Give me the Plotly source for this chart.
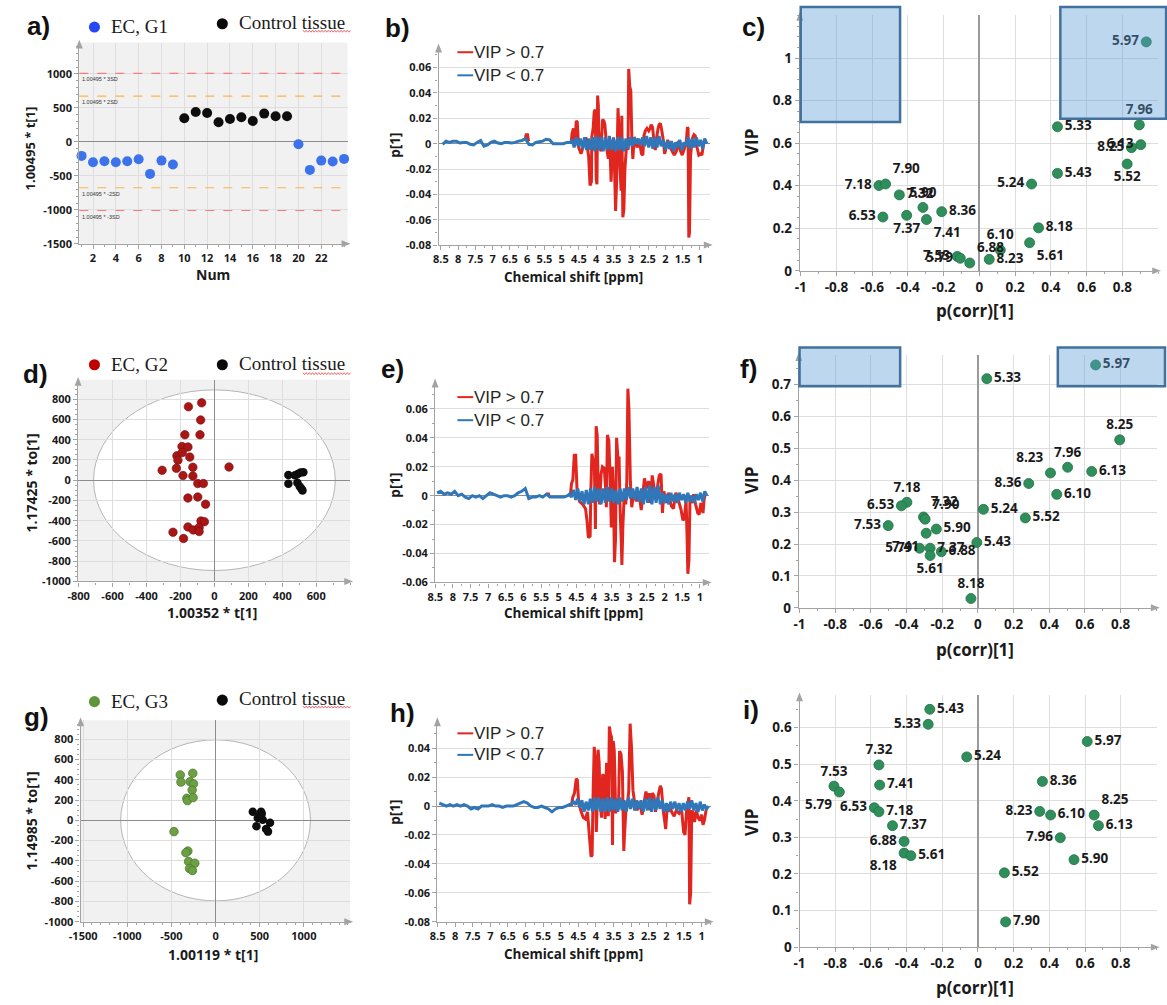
import plotly.graph_objects as go

W, H = 1167, 1005

# ---------------- a) t[1] score per observation ----------------
A_NUM = [1, 2, 3, 4, 5, 6, 7, 8, 9, 10, 11, 12, 13, 14, 15, 16, 17, 18, 19, 20, 21, 22, 23, 24]
A_GROUP = ['EC', 'EC', 'EC', 'EC', 'EC', 'EC', 'EC', 'EC', 'EC',
           'CT', 'CT', 'CT', 'CT', 'CT', 'CT', 'CT', 'CT', 'CT', 'CT',
           'EC', 'EC', 'EC', 'EC', 'EC']
A_T1 = [-206, -299, -284, -299, -284, -255, -471, -275, -333,
        348, 441, 426, 289, 338, 363, 309, 417, 377, 377,
        -34, -412, -275, -289, -250]
A_SD_LEVELS = [1010, 675, -675, -1010]
A_SD_LABELS = ['1.00495 * 3SD', '1.00495 * 2SD', '1.00495 * -2SD', '1.00495 * -3SD']
A_SD_COLORS = ['#ff7b7b', '#ffb347', '#ffb347', '#ff7b7b']

# ---------------- d) / g) OPLS-DA score plots ----------------
D_EC_T = [-75, -153, -81, -174, -85, -191, -156, -221, -189, -215, -145, -308, -224, -127, -185,
          -127, -98, -65, 86, -156, -98, -52, -79, -59, -156, -125, -90, -90, -244, -182]
D_EC_TO = [764, 725, 595, 449, 449, 332, 328, 241, 273, 198, 228, 98, 117, 127, 46,
           42, -33, -33, 130, -176, -166, -237, -403, -410, -462, -491, -468, -507, -514, -576]
D_CT_T = [436, 436, 475, 491, 508, 524, 489, 503, 513, 519]
D_CT_TO = [52, -36, 49, 62, 75, 78, -26, -62, -85, -101]
D_ELLIPSE = (712, 892)

G_EC_T = [-258, -400, -288, -392, -250, -265, -325, -318, -254, -471, -314, -336, -306, -235, -295, -262]
G_EC_TO = [465, 449, 381, 378, 361, 299, 218, 195, 225, -111, -303, -319, -407, -423, -475, -495]
G_CT_T = [422, 516, 497, 478, 534, 617, 463, 572, 594, 523]
G_CT_TO = [85, 85, 46, 23, 7, -23, -59, -85, -111, 65]
G_ELLIPSE = (1075, 795)

# ---------------- b) e) h) loading line plots, p[1] x 1000 ----------------
BLUE_PPM = [8.45, 8.35, 8.25, 8.15, 8.05, 7.95, 7.85, 7.75, 7.65, 7.55,
            7.45, 7.35, 7.25, 7.15, 7.05, 6.95, 6.85, 6.75, 6.65, 6.55,
            6.45, 6.35, 6.25, 6.15, 6.05, 5.95, 5.85, 5.75, 5.65, 5.55,
            5.45, 5.35, 5.25, 5.15, 5.05, 4.95, 4.85, 4.75,
            4.70, 4.64, 4.58, 4.52, 4.46, 4.40, 4.34, 4.28, 4.22, 4.16,
            4.10, 4.04, 3.98, 3.92, 3.86, 3.80, 3.74, 3.68, 3.62, 3.56,
            3.50, 3.44, 3.38, 3.32, 3.26, 3.20, 3.14, 3.08, 3.02, 2.96,
            2.90, 2.84, 2.78, 2.72, 2.66, 2.60, 2.54, 2.48, 2.42, 2.36,
            2.30, 2.24, 2.18, 2.12, 2.06, 2.00, 1.94, 1.88, 1.82, 1.76,
            1.70, 1.64, 1.58, 1.52, 1.46, 1.40, 1.34, 1.28, 1.22, 1.16,
            1.10, 1.04, 0.98, 0.92, 0.86, 0.80]

B_BLUE_P1 = [-0.5, 2, 1, 2, 2, 0.5, 1, 1, -0.5, -1,
             1, 2.5, -2, -1, 1, 2, 0.5, 0, 1, 1,
             0.5, 1, 2, 2.5, 4, -0.5, -1, 1, 1.5, 2,
             3.5, 3, 0, 0, 0, 0, 1, 1,
             3, -3, 5, -2, 4, -4, 5, -5, 4, -5,
             5, -6, 6, -5, 5, -6, 5, -5, 6, -5,
             4, -6, 5, -5, 5, -6, 4, -4, 5, -2,
             5, 0, 4, -1, 5, -2, 6, -3, 5, -4,
             5, -3, 6, -2, 3, -5, 2, -4, 2, -6,
             1, -3, 3, -5, 1, -2, 5, -4, 4, -3,
             5, -2, 3, -4, 4, 0]
B_RED_PPM = [6.06, 6.03, 5.99, 5.96, None, 4.73, 4.70, 4.66, 4.62, 4.58,
             4.55, 4.51, 4.44, 4.30, 4.22, 4.18, 4.14, 4.13, 4.09, 4.06,
             4.03, 4.00, 3.98, 3.96, 3.94, 3.93, 3.90, 3.86, 3.82, 3.78,
             3.75, 3.72, 3.69, 3.65, 3.61, 3.57, 3.54, 3.50, 3.48, 3.44,
             3.41, 3.37, 3.34, 3.31, 3.28, 3.26, 3.23, 3.20, 3.17, 3.14,
             3.11, 3.08, 3.06, 3.03, 3.00, 2.97, 2.94, 2.90, 2.86, 2.82,
             2.75, 2.69, 2.65, 2.62, 2.58, 2.53, 2.48, 2.44, 2.41, 2.37,
             2.33, 2.29, 2.25, 2.21, 2.18, 2.14, 2.10, 2.06, 2.02, 1.99,
             1.93, 1.86, 1.80, 1.74, 1.68, 1.62, 1.57, 1.51, 1.45, 1.39,
             1.36, 1.34, 1.32, 1.30, 1.27, 1.22, 1.17, 1.13, 1.08, 1.03,
             0.98, 0.94, 0.89, 0.84]
B_RED_P1 = [3, 7, 7, 2, None, 0, 8, 12, -2, 18,
            17, -3, -8, 5, -10, -33, -30, 5, 12, 25,
            27, -28, -32, 38, 30, 10, -3, -6, 19, 18,
            15, 5, -5, -12, 3, -30, -10, 5, -8, -53,
            -30, 28, 10, -20, -37, 22, -58, -52, -20, -8,
            2, -5, 59, 45, 42, 5, -12, 5, 3, -3,
            2, -8, -9, 6, 10, 12, 10, 12, 15, 13,
            3, -5, 5, 12, 15, 16, 10, 3, -8, -5,
            3, -3, -6, -9, -6, 2, -5, -9, -4, 2,
            13, 12, -74, -70, -10, 4, 7, 6, -3, -9,
            -8, -9, 0, 3]

E_BLUE_P1 = [2, 3, 1, 2, 1, 3, 0, 1, -1, -2,
             0, -1, 0, -2, 0, 2, 1, 0, -1, 0,
             0, -1, 0, 2, 3, 5, -2, -1, -1, 0,
             -1, 1, -1, -1, -1, -1, -1, 0,
             1, -1, 4, -3, 5, -4, 3, -6, 4, -6,
             5, -5, 6, -4, 5, -6, 5, -5, 6, -4,
             5, -5, 4, -6, 5, -4, 5, -3, 6, -2,
             5, -3, 6, -4, 5, -6, 6, -5, 7, -6,
             6, -5, 7, -6, 2, -5, 1, -6, 2, -4,
             1, -5, 2, -3, 1, -5, 2, -4, 0, -5,
             1, -3, 2, -4, 3, 0]
E_RED_PPM = [5.32, 5.30, 5.28, None, 4.67, 4.64, 4.60, 4.56, 4.52, 4.48,
             4.41, 4.32, 4.24, 4.20, 4.16, 4.11, 4.09, 4.06, 4.02, 3.99,
             3.96, 3.94, 3.91, 3.88, 3.84, 3.80, 3.76, 3.71, 3.67, 3.65,
             3.62, 3.58, 3.54, 3.51, 3.48, 3.45, 3.42, 3.39, 3.36, 3.32,
             3.29, 3.26, 3.23, 3.21, 3.18, 3.14, 3.10, 3.07, 3.04, 3.01,
             2.97, 2.93, 2.87, 2.80, 2.73, 2.66, 2.62, 2.57, 2.51, 2.45,
             2.40, 2.35, 2.30, 2.24, 2.19, 2.15, 2.10, 2.06, 2.02, 1.96,
             1.89, 1.81, 1.75, 1.68, 1.61, 1.53, 1.48, 1.44, 1.39, 1.36,
             1.34, 1.31, 1.28, 1.23, 1.18, 1.12, 1.06, 1.02, 0.97, 0.91,
             0.88, 0.84]
E_RED_P1 = [0, 2, 0, None, 0, 8, 11, 28, 28, 3,
            -4, -6, -9, -17, -29, -28, 3, 29, 24, 22,
            -23, 48, 42, 5, -6, 15, 20, 19, 5, -8,
            42, 38, 10, -22, 20, 5, -46, -30, 40, 25,
            27, -10, -30, -48, -20, 2, -6, 10, 74, 60,
            10, -8, 3, -4, 3, -10, 0, 12, 5, 10,
            -5, 14, 6, -3, 8, 14, 15, -12, 3, -5,
            2, -7, -9, 2, -3, -10, -17, -16, -3, -30,
            -54, -45, -3, -5, 1, -6, -12, -13, -5, -12,
            -3, 2]

H_BLUE_P1 = [2, 1, 0, 1, 0, 1, 0, 1, 0, -2,
             -1, -2, 0, 0, 0, 1, 0, 0, -1, 0,
             0, 0, 1, 2, 3, 2, 0, -1, -1, 0,
             -1, -2, -4, -2, -1, -1, 0, 1,
             1, 3, 1, 5, -1, 4, -4, 3, -3, 5,
             -4, 6, -3, 6, -4, 5, -4, 6, -4, 6,
             -3, 5, -4, 6, -3, 4, -4, 6, -2, 5,
             -3, 4, -2, 4, -4, 5, -3, 6, -4, 5,
             -3, 6, -2, 4, -4, 2, -4, 3, -2, 3,
             -3, 2, -4, 2, -3, 3, -2, 4, -3, 2,
             -4, 3, -3, 1, -2, 0]
H_RED_PPM = [4.70, 4.66, 4.61, 4.56, 4.53, 4.49, 4.42, 4.36, 4.30, 4.24,
             4.19, 4.14, 4.11, 4.08, 4.05, 4.02, 3.99, 3.96, 3.94, 3.91,
             3.88, 3.84, 3.81, 3.77, 3.74, 3.70, 3.67, 3.65, 3.62, 3.59,
             3.56, 3.53, 3.51, 3.48, 3.44, 3.39, 3.36, 3.33, 3.29, 3.25,
             3.21, 3.19, 3.15, 3.10, 3.07, 3.03, 2.99, 2.95, 2.90, 2.83,
             2.76, 2.69, 2.63, 2.58, 2.53, 2.49, 2.45, 2.40, 2.35, 2.31,
             2.26, 2.21, 2.17, 2.14, 2.09, 2.05, 2.02, 1.98, 1.92, 1.85,
             1.78, 1.72, 1.64, 1.57, 1.51, 1.47, 1.43, 1.39, 1.36, 1.34,
             1.31, 1.28, 1.24, 1.20, 1.15, 1.10, 1.05, 1.00, 0.96, 0.92,
             0.88, 0.85]
H_RED_P1 = [0, 6, 9, 19, 18, 2, -4, -8, -9, -4,
            -20, -35, -34, 10, 41, 32, -18, 5, 39, 30,
            3, -8, 22, 20, -9, 30, 22, -7, 55, 50,
            48, -27, 45, 38, -5, 5, -2, 38, 36, 24,
            -31, -20, -3, 3, 10, 57, 40, 11, 2, -3,
            3, -6, 3, 10, 4, 9, -3, 9, 7, -4,
            3, 10, 14, 12, -3, -10, -16, -2, 1, -4,
            -7, -3, -5, -2, -18, -20, -4, 2, 6, -68,
            -60, -3, -5, -11, -3, -8, -10, -6, -13, -10,
            -4, 0]

# ---------------- c) f) i) VIP vs p(corr) ----------------
C_LABELS = ['5.97', '7.96', '6.13', '8.25', '5.52', '5.33', '5.43', '5.24', '8.18', '5.61', '6.10', '8.23',
            '6.88', '7.53', '5.79', '7.41', '8.36', '5.90', '7.37', '7.32', '6.53', '7.18', '7.90']
C_PCORR = [0.934, 0.895, 0.903, 0.851, 0.827, 0.437, 0.437, 0.292, 0.331, 0.281, 0.117, 0.055,
           -0.054, -0.124, -0.107, -0.296, -0.211, -0.316, -0.407, -0.448, -0.540, -0.562, -0.525]
C_VIP = [1.076, 0.686, 0.593, 0.579, 0.502, 0.677, 0.458, 0.408, 0.202, 0.132, 0.098, 0.054,
         0.037, 0.068, 0.059, 0.241, 0.278, 0.298, 0.261, 0.357, 0.253, 0.401, 0.408]
C_LABEL_SIDE = ['middle left', 'top center', 'middle left', 'middle left', 'bottom center', 'middle right',
                'middle right', 'middle left', 'middle right', 'bottom right', 'top center', 'middle right',
                'top right', 'middle left', 'middle left', 'bottom right', 'middle right', 'top center',
                'bottom center', 'middle right', 'middle left', 'middle left', 'top right']

F_LABELS = ['5.97', '5.33', '8.25', '7.96', '8.23', '6.13', '8.36', '6.10', '5.24', '5.52', '5.43', '8.18',
            '7.18', '6.53', '7.53', '7.32', '7.90', '5.90', '7.41', '5.79', '7.37', '5.61', '6.88']
F_PCORR = [0.660, 0.050, 0.795, 0.503, 0.407, 0.638, 0.285, 0.442, 0.031, 0.266, -0.006, -0.039,
           -0.398, -0.429, -0.503, -0.305, -0.296, -0.233, -0.290, -0.327, -0.268, -0.268, -0.205]
F_VIP = [0.762, 0.719, 0.527, 0.441, 0.423, 0.428, 0.390, 0.356, 0.309, 0.282, 0.205, 0.029,
         0.331, 0.320, 0.258, 0.285, 0.278, 0.247, 0.234, 0.187, 0.187, 0.164, 0.176]
F_LABEL_SIDE = ['middle right', 'middle right', 'top center', 'top center', 'top left', 'middle right',
                'middle left', 'middle right', 'middle right', 'middle right', 'middle right', 'top center',
                'top center', 'middle left', 'middle left', 'top right', 'top right', 'middle right',
                'bottom left', 'middle left', 'middle right', 'bottom center', 'middle right']

I_LABELS = ['5.43', '5.33', '5.97', '5.24', '7.32', '7.53', '5.79', '7.41', '8.36', '6.53', '7.18', '8.23',
            '6.10', '8.25', '6.13', '7.37', '7.96', '6.88', '8.18', '5.61', '5.90', '5.52', '7.90']
I_PCORR = [-0.270, -0.279, 0.612, -0.063, -0.555, -0.807, -0.777, -0.551, 0.361, -0.581, -0.555, 0.346,
           0.407, 0.651, 0.675, -0.479, 0.461, -0.414, -0.414, -0.376, 0.538, 0.148, 0.155]
I_VIP = [0.650, 0.609, 0.562, 0.520, 0.498, 0.440, 0.424, 0.443, 0.453, 0.381, 0.370, 0.371,
         0.361, 0.361, 0.332, 0.332, 0.299, 0.289, 0.257, 0.250, 0.239, 0.203, 0.069]
I_LABEL_SIDE = ['middle right', 'middle left', 'middle right', 'middle right', 'top center', 'top center',
                'bottom left', 'middle right', 'middle right', 'middle left', 'middle right', 'middle left',
                'middle right', 'top right', 'middle right', 'middle right', 'middle left', 'middle left',
                'bottom left', 'middle right', 'middle right', 'middle right', 'middle right']

# ---------------- tick labels ----------------
A_XTICKS = [2, 4, 6, 8, 10, 12, 14, 16, 18, 20, 22]
A_YTICKS = [-1500, -1000, -500, 0, 500, 1000]
PPM_TICKS = [8.5, 8, 7.5, 7, 6.5, 6, 5.5, 5, 4.5, 4, 3.5, 3, 2.5, 2, 1.5, 1]
B_YTICKS = [-0.08, -0.06, -0.04, -0.02, 0, 0.02, 0.04, 0.06]
E_YTICKS = [-0.06, -0.04, -0.02, 0, 0.02, 0.04, 0.06]
H_YTICKS = [-0.08, -0.06, -0.04, -0.02, 0, 0.02, 0.04]
PCORR_TICKS = [-1, -0.8, -0.6, -0.4, -0.2, 0, 0.2, 0.4, 0.6, 0.8]
C_YTICKS = [0, 0.2, 0.4, 0.6, 0.8, 1]
F_YTICKS = [0, 0.1, 0.2, 0.3, 0.4, 0.5, 0.6, 0.7]
I_YTICKS = [0, 0.1, 0.2, 0.3, 0.4, 0.5, 0.6]
D_XTICKS = [-800, -600, -400, -200, 0, 200, 400, 600]
D_YTICKS = [-1000, -800, -600, -400, -200, 0, 200, 400, 600, 800]
G_XTICKS = [-1500, -1000, -500, 0, 500, 1000]

# ---------------- geometry: plot areas (px) and axis ranges ----------------
PANELS = {
    'a': dict(L=68, R=339, T=43, B=246, xr=[0.8, 24.3], yr=[-1500, 1462]),
    'b': dict(L=431, R=705, T=47, B=247.3, xr=[8.566, 0.713], yr=[-0.08, 0.0766]),
    'c': dict(L=796, R=1158, T=15, B=273.3, xr=[-1.005, 1.0], yr=[0, 1.203]),
    'd': dict(L=66.8, R=341.7, T=383.3, B=586.7, xr=[-803, 800], yr=[-1000, 991]),
    'e': dict(L=427.5, R=704, T=385, B=587.7, xr=[8.505, 0.747], yr=[-0.06, 0.0789]),
    'f': dict(L=795, R=1156.7, T=358.3, B=613.3, xr=[-1.004, 1.003], yr=[0, 0.793]),
    'g': dict(L=69.3, R=341.7, T=726.7, B=930, xr=[-1529, 1525], yr=[-1000, 989]),
    'h': dict(L=429.8, R=706, T=726.7, B=930, xr=[8.505, 0.74], yr=[-0.08, 0.0594]),
    'i': dict(L=795.7, R=1156.7, T=701.7, B=955.7, xr=[-1.0, 1.002], yr=[0, 0.688]),
}
AX_INDEX = {'a': 1, 'b': 2, 'c': 3, 'd': 4, 'e': 5, 'f': 6, 'g': 7, 'h': 8, 'i': 9}

UI_FONT = 'Open Sans'
ARIAL = 'Liberation Sans'
SERIF = 'Liberation Serif'
INK = '#1a1a1a'
AXIS = '#a3a3a3'
GRID = '#dedede'
ZERO = '#8c8c8c'
PANEL_BG = '#f1f1f1'
SPEC_RED = '#e0261e'
SPEC_BLUE = '#2f77b8'
VIP_GREEN = '#2f8f5a'
VIP_EDGE = '#23704a'

layout = {}
shapes = []
annotations = []


def ids(key):
    n = AX_INDEX[key]
    s = '' if n == 1 else str(n)
    return 'xaxis' + s, 'yaxis' + s, 'x' + s, 'y' + s


def fmt(v):
    return '%g' % v


def px_x(x):
    return x / W


def px_y(y):
    return 1 - y / H


def data_to_px(key, x, y):
    p = PANELS[key]
    fx = (x - p['xr'][0]) / (p['xr'][1] - p['xr'][0])
    fy = (y - p['yr'][0]) / (p['yr'][1] - p['yr'][0])
    return p['L'] + fx * (p['R'] - p['L']), p['B'] - fy * (p['B'] - p['T'])


def add_text(x, y, s, size, family=UI_FONT, weight='bold', color=INK, angle=0, xanchor='center'):
    annotations.append(dict(xref='paper', yref='paper', x=px_x(x), y=px_y(y), text=s,
                            showarrow=False, textangle=angle, xanchor=xanchor, yanchor='middle',
                            font=dict(family=family, size=size, color=color, weight=weight)))


def add_path(points, color, closed=True, width=0):
    path = 'M ' + ' L '.join('%.5f,%.5f' % (px_x(x), px_y(y)) for x, y in points)
    if closed:
        path += ' Z'
    shapes.append(dict(type='path', xref='paper', yref='paper', path=path,
                       fillcolor=color if closed else 'rgba(0,0,0,0)',
                       line=dict(color=color, width=width), layer='above'))


def setup_axes(key, xticks, yticks, xminor, yminor, fsize, xgrid, ygrid, xzero, yzero):
    p = PANELS[key]
    xa, ya, xid, yid = ids(key)
    base = dict(showline=True, linecolor=AXIS, linewidth=1.3, ticks='outside', ticklen=4,
                tickwidth=1, tickcolor=AXIS, tickmode='array',
                tickfont=dict(family=UI_FONT, size=fsize, color=INK, weight='bold'),
                gridcolor=GRID, gridwidth=1, zerolinecolor=ZERO, zerolinewidth=1.2, fixedrange=True)
    layout[xa] = dict(base, domain=[p['L'] / W, p['R'] / W], range=p['xr'], anchor=yid,
                      tickvals=xticks, ticktext=[fmt(v) for v in xticks], showgrid=xgrid, zeroline=xzero,
                      minor=dict(ticks='outside', ticklen=2, tickcolor=AXIS, dtick=xminor, tick0=0,
                                 showgrid=False))
    layout[ya] = dict(base, domain=[1 - p['B'] / H, 1 - p['T'] / H], range=p['yr'], anchor=xid,
                      tickvals=yticks, ticktext=[fmt(v) for v in yticks], showgrid=ygrid, zeroline=yzero,
                      minor=dict(ticks='outside', ticklen=2, tickcolor=AXIS, dtick=yminor, tick0=0,
                                 showgrid=False))
    L, R, T, B = p['L'], p['R'], p['T'], p['B']
    add_path([(L, T - 3), (L - 3.5, T + 6), (L + 3.5, T + 6)], AXIS)
    add_path([(R + 3, B), (R - 6, B - 3.5), (R - 6, B + 3.5)], AXIS)


def gray_background(key):
    _, _, xid, yid = ids(key)
    shapes.append(dict(type='rect', xref=xid + ' domain', yref=yid + ' domain', x0=0, x1=1, y0=0, y1=1,
                       fillcolor=PANEL_BG, line=dict(width=0), layer='below'))


def t2_ellipse(key, radii):
    _, _, xid, yid = ids(key)
    shapes.append(dict(type='circle', xref=xid, yref=yid, x0=-radii[0], x1=radii[0],
                       y0=-radii[1], y1=radii[1], fillcolor='white',
                       line=dict(color='#b5b5b5', width=1), layer='below'))


def highlight_box(key, x0, x1, y0, y1):
    ax0, ay0 = data_to_px(key, x0, y0)
    ax1, ay1 = data_to_px(key, x1, y1)
    shapes.append(dict(type='rect', xref='paper', yref='paper', x0=px_x(ax0), x1=px_x(ax1),
                       y0=px_y(ay0), y1=px_y(ay1), fillcolor='rgba(91,155,213,0.4)',
                       line=dict(color='#41719c', width=2.5), layer='above'))


def legend_dot(cx, cy, r, color):
    shapes.append(dict(type='circle', xref='paper', yref='paper', x0=px_x(cx - r), x1=px_x(cx + r),
                       y0=px_y(cy + r), y1=px_y(cy - r), fillcolor=color, line=dict(width=0)))


def squiggle(x0, x1, y):
    pts = []
    x, up = x0, True
    while x <= x1:
        pts.append((x, y - 1 if up else y + 1))
        x += 1.6
        up = not up
    add_path(pts, '#e04848', closed=False, width=0.8)


def score_legend(y_ec, y_ct, ec_label, ec_color, y_line):
    legend_dot(83.3, y_ec, 5.6, ec_color)
    add_text(98, y_ec - 0.5, ec_label, 19, family=SERIF, weight='normal', xanchor='left')
    legend_dot(212.5, y_ct + 1.5, 5.6, '#0a0a0a')
    add_text(227, y_ct, 'Control tissue', 19, family=SERIF, weight='normal', xanchor='left')
    squiggle(294, 343, y_line)


def vip_legend(y_red, y_blue):
    for y, c, s in [(y_red, SPEC_RED, 'VIP &gt; 0.7'), (y_blue, SPEC_BLUE, 'VIP &lt; 0.7')]:
        shapes.append(dict(type='line', xref='paper', yref='paper', x0=px_x(450), x1=px_x(466),
                           y0=px_y(y), y1=px_y(y), line=dict(color=c, width=2)))
        add_text(465, y, s, 17, family=ARIAL, weight='normal', color='#262626', xanchor='left')


fig = go.Figure()


def milli(vals):
    return [None if v is None else v / 1000.0 for v in vals]


# ---- a ----
setup_axes('a', A_XTICKS, A_YTICKS, 1, 100, 11, True, True, False, True)
gray_background('a')
for lvl, lab, col in zip(A_SD_LEVELS, A_SD_LABELS, A_SD_COLORS):
    shapes.append(dict(type='line', xref='x domain', yref='y', x0=0, x1=1, y0=lvl, y1=lvl,
                       line=dict(color=col, width=1.2, dash='dash'), layer='above'))
    annotations.append(dict(xref='x domain', yref='y', x=0, y=lvl, text=lab, showarrow=False,
                            xanchor='left', yanchor='top', xshift=1, yshift=-1,
                            font=dict(family=ARIAL, size=5.5, color='#333333')))
for grp, col in [('EC', '#3c73ea'), ('CT', '#0d0d0d')]:
    idx = [k for k, g in enumerate(A_GROUP) if g == grp]
    fig.add_trace(go.Scatter(x=[A_NUM[k] for k in idx], y=[A_T1[k] for k in idx], mode='markers',
                             marker=dict(color=col, size=10), xaxis='x', yaxis='y', cliponaxis=False))
score_legend(27.3, 22.5, 'EC, G1', '#2448f5', 31.5)

# ---- d ----
setup_axes('d', D_XTICKS, D_YTICKS, 100, 50, 11, True, True, True, True)
gray_background('d')
t2_ellipse('d', D_ELLIPSE)
fig.add_trace(go.Scatter(x=D_EC_T, y=D_EC_TO, mode='markers', xaxis='x4', yaxis='y4',
                         marker=dict(color='#a81616', size=8.5, line=dict(color='#7a0c0c', width=0.6))))
fig.add_trace(go.Scatter(x=D_CT_T, y=D_CT_TO, mode='markers', xaxis='x4', yaxis='y4',
                         marker=dict(color='#0d0d0d', size=8.5)))
score_legend(368, 366.5, 'EC, G2', '#c00000', 377)

# ---- g ----
setup_axes('g', G_XTICKS, D_YTICKS, 100, 50, 11, True, True, True, True)
gray_background('g')
t2_ellipse('g', G_ELLIPSE)
fig.add_trace(go.Scatter(x=G_EC_T, y=G_EC_TO, mode='markers', xaxis='x7', yaxis='y7',
                         marker=dict(color='#6da044', size=8.5, line=dict(color='#4c7a2c', width=0.8))))
fig.add_trace(go.Scatter(x=G_CT_T, y=G_CT_TO, mode='markers', xaxis='x7', yaxis='y7',
                         marker=dict(color='#0d0d0d', size=8.5)))
score_legend(708, 705, 'EC, G3', '#5f963b', 713.5)

# ---- b, e, h: loading spectra ----
for key, yt, red_x, red_y, blue_y, legend_y in [
        ('b', B_YTICKS, B_RED_PPM, B_RED_P1, B_BLUE_P1, (52.7, 76)),
        ('e', E_YTICKS, E_RED_PPM, E_RED_P1, E_BLUE_P1, (400.7, 424)),
        ('h', H_YTICKS, H_RED_PPM, H_RED_P1, H_BLUE_P1, (740, 761.7))]:
    _, _, xid, yid = ids(key)
    setup_axes(key, PPM_TICKS, yt, 0.25, 0.01, 11, False, True, False, True)
    fig.add_trace(go.Scatter(x=red_x, y=milli(red_y), mode='lines', xaxis=xid, yaxis=yid,
                             line=dict(color=SPEC_RED, width=3, simplify=False), connectgaps=False))
    fig.add_trace(go.Scatter(x=BLUE_PPM, y=milli(blue_y), mode='lines', xaxis=xid, yaxis=yid,
                             line=dict(color=SPEC_BLUE, width=3, simplify=False)))
    vip_legend(*legend_y)

# ---- c, f, i: VIP vs p(corr) ----
for key, yt, xs, ys, labs, sides in [
        ('c', C_YTICKS, C_PCORR, C_VIP, C_LABELS, C_LABEL_SIDE),
        ('f', F_YTICKS, F_PCORR, F_VIP, F_LABELS, F_LABEL_SIDE),
        ('i', I_YTICKS, I_PCORR, I_VIP, I_LABELS, I_LABEL_SIDE)]:
    _, _, xid, yid = ids(key)
    setup_axes(key, PCORR_TICKS, yt, 0.1, 0.05, 13.5, True, True, True, False)
    layout[ids(key)[0]]['zerolinecolor'] = '#9a9a9a'
    layout[ids(key)[0]]['zerolinewidth'] = 1.6
    fig.add_trace(go.Scatter(x=xs, y=ys, mode='markers+text', text=labs, textposition=sides,
                             xaxis=xid, yaxis=yid, cliponaxis=False,
                             marker=dict(color=VIP_GREEN, size=10, line=dict(color=VIP_EDGE, width=0.8)),
                             textfont=dict(family=UI_FONT, size=13.5, color=INK, weight='bold')))

highlight_box('c', -1.0, -0.444, 0.70, 1.24)
highlight_box('c', 0.453, 1.045, 0.715, 1.24)
highlight_box('f', -1.0, -0.436, 0.695, 0.817)
highlight_box('f', 0.448, 1.049, 0.695, 0.817)

# ---- axis titles ----
add_text(203, 277, 'Num', 14)
add_text(18, 150, '1.00495 * t[1]', 13, angle=-90)
add_text(202, 618, '1.00352 * t[1]', 14)
add_text(20, 487, '1.17425 * to[1]', 14, angle=-90)
add_text(203, 962.7, '1.00119 * t[1]', 14)
add_text(20, 828, '1.14985 * to[1]', 14, angle=-90)
for y_title, y_axis_title in [(279, 147), (619, 490), (962.7, 820)]:
    add_text(567, y_title, 'Chemical shift [ppm]', 13.5)
    add_text(387, y_axis_title, 'p[1]', 13.5, angle=-90)
for y_title, y_axis_title in [(313, 144), (655, 485), (996.5, 830)]:
    add_text(973, y_title, 'p(corr)[1]', 17)
    add_text(747, y_axis_title, 'VIP', 17, angle=-90)

# ---- panel letters ----
for s, x, y in [('a)', 27, 26), ('b)', 389, 28.5), ('c)', 749, 27),
                ('d)', 23.5, 377.5), ('e)', 384, 372), ('f)', 744, 372),
                ('g)', 25, 723), ('h)', 395, 719), ('i)', 747, 716)]:
    add_text(x, y, s, 26, family=ARIAL, color='#111111')

fig.update_layout(
    width=W, height=H, margin=dict(l=0, r=0, t=0, b=0),
    paper_bgcolor='white', plot_bgcolor='white', showlegend=False,
    shapes=shapes, annotations=annotations, **layout)

fig.write_html("out.html")
